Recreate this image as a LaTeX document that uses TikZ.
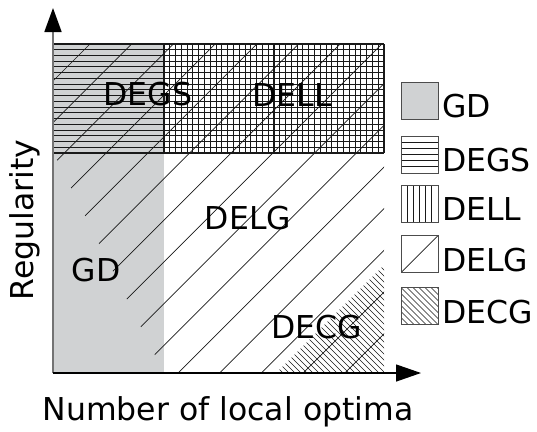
\documentclass[tikz,border=0pt]{standalone}
\usepackage{fontspec}
\setmainfont{DejaVu Sans}
\usetikzlibrary{arrows.meta}
\definecolor{gdgray}{RGB}{208,210,211}
\definecolor{axisgray}{RGB}{115,115,115}
\begin{document}
\begin{tikzpicture}[x=1pt,y=-1pt,
  lbl/.style={font=\fontsize{31.5}{36}\selectfont, inner sep=0pt, text=black},
  hatchline/.style={black!90, line width=1.05pt},
  diagline/.style={black!90, line width=0.7pt},
  legbox/.style={draw=black!70, line width=0.9pt, minimum size=37pt, inner sep=0pt},
]
\useasboundingbox (0,0) rectangle (537,431);

% GD: grey column on the left
\fill[gdgray] (53,44) rectangle (164,373);

% DEGS: horizontal lines across the top band
\foreach \i in {0,...,19}
  \draw[hatchline] (53,{44+\i*109/19}) -- (384,{44+\i*109/19});

% DELL: vertical lines in the top-right block
\foreach \i in {0,...,38}
  \draw[hatchline] ({164+\i*220/38},44) -- ({164+\i*220/38},153);

% DELG: diagonal lines right of the sloped boundary
\begin{scope}
  \clip (53,44) -- (384,44) -- (384,373) -- (164,373) -- (53,152) -- cycle;
  \foreach \i in {0,...,14}{
    \pgfmathsetmacro\s{134+41.7*\i}
    \draw[diagline] ({\s-373},373) -- ({\s-44},44);
  }
\end{scope}

% DECG: back-slanted lines in the bottom-right triangle
\begin{scope}
  \clip (276,373) -- (384,265) -- (384,373) -- cycle;
  \foreach \c in {-102,-96,...,126}
    \draw[diagline] ({\c+265},265) -- ({\c+373},373);
\end{scope}

% axes
\coordinate (origin) at (53,373);
\coordinate (ytip) at (53,8);
\coordinate (xtip) at (421,373);
\draw[axisgray, line width=1.8pt, -{Triangle[length=24pt,width=17pt,color=black]}] (origin) -- (ytip);
\draw[black, line width=1.3pt, -{Triangle[length=25pt,width=17pt,color=black]}] (origin) -- (xtip);

% region labels
\node[lbl] (tDEGS) at (148,94) {DEGS};
\node[lbl] (tDELL) at (292,95) {DELL};
\node[lbl] (tDELG) at (248,218) {DELG};
\node[lbl] (tGD)   at (96,270) {GD};
\node[lbl] (tDECG) at (317,327) {DECG};

% axis titles
\node[lbl, anchor=base] (xlabel) at (228,420) {Number of local optima};
\node[lbl, anchor=base, rotate=90] (ylabel) at (33,220) {Regularity};

% legend
\node[legbox, fill=gdgray] (kGD) at (419.5,100.5) {};
\node[legbox, path picture={
    \foreach \i in {1,...,5}
      \draw[hatchline] ([yshift=-\i*37/6 pt]path picture bounding box.north west)
        -- ([yshift=-\i*37/6 pt]path picture bounding box.north east);
  }] (kDEGS) at (419.5,154.5) {};
\node[legbox, path picture={
    \foreach \i in {1,...,5}
      \draw[hatchline] ([xshift=\i*37/6 pt]path picture bounding box.north west)
        -- ([xshift=\i*37/6 pt]path picture bounding box.south west);
  }] (kDELL) at (419.5,203.5) {};
\node[legbox, path picture={
    \draw[diagline] (path picture bounding box.south west) -- (path picture bounding box.north east);
  }] (kDELG) at (419.5,254) {};
\node[legbox, path picture={
    \foreach \c in {-36,-30,...,36}
      \draw[diagline] ([xshift=\c pt]path picture bounding box.north west) -- ++(42pt,-42pt);
  }] (kDECG) at (419.5,306) {};

\node[lbl, anchor=base west] (lGD)   at (442,117.5) {GD};
\node[lbl, anchor=base west] (lDEGS) at (442,171.5) {DEGS};
\node[lbl, anchor=base west] (lDELL) at (442,220.5) {DELL};
\node[lbl, anchor=base west] (lDELG) at (442,271) {DELG};
\node[lbl, anchor=base west] (lDECG) at (442,323.5) {DECG};
\end{tikzpicture}
\end{document}
